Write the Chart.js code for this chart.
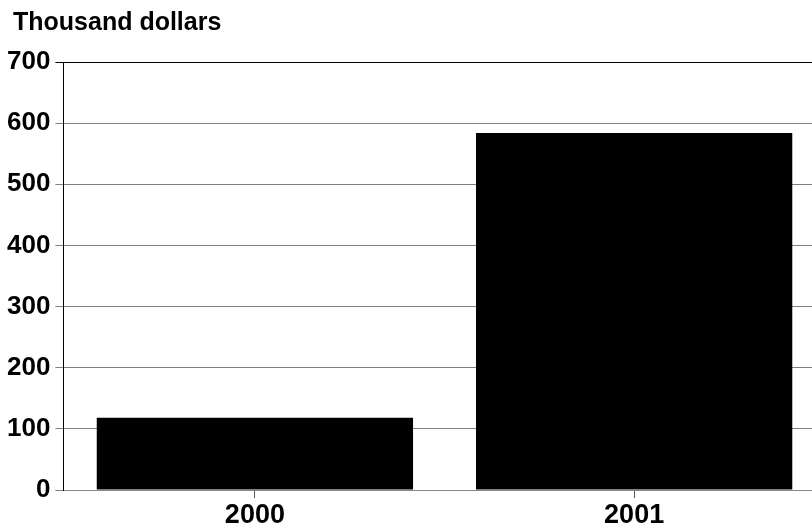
<!DOCTYPE html>
<html>
<head>
<meta charset="utf-8">
<script src="https://cdn.jsdelivr.net/npm/chart.js@4/dist/chart.umd.min.js"></script>
<style>
  html, body { margin: 0; padding: 0; background: #fff; overflow: hidden; }
  #wrap { position: relative; width: 812px; height: 525px; }
  #title { position: absolute; left: 13px; top: 7px; font: bold 25px "Liberation Sans", Arial, sans-serif; color: #000; }
</style>
</head>
<body>
<div id="wrap">
  <div id="title">Thousand dollars</div>
  <canvas id="myChart" width="812" height="525"></canvas>
</div>
<script>
var years = ['2000', '2001'];
var amounts = [118, 584];
var yTicks = [0, 100, 200, 300, 400, 500, 600, 700];

// bars sit at positions 0 and 1 on a linear x axis; the plot runs past the right edge
var points = amounts.map(function(v, i) { return { x: i, y: v }; });

var ctx = document.getElementById('myChart').getContext('2d');
var myChart = new Chart(ctx, {
    type: 'bar',
    data: {
        datasets: [{
            label: 'Thousand dollars',
            data: points,
            backgroundColor: '#000',
            borderColor: '#000',
            borderWidth: 0,
            barPercentage: 0.834,
            categoryPercentage: 1
        }]
    },
    options: {
        responsive: false,
        animation: false,
        layout: { padding: { top: 62, left: 2, right: 0, bottom: 0 } },
        plugins: { legend: { display: false }, tooltip: { enabled: false } },
        scales: {
            x: {
                type: 'linear',
                min: -0.505,
                max: 1.469,
                offset: false,
                afterBuildTicks: function(axis) { axis.ticks = years.map(function(y, i) { return { value: i }; }); },
                afterFit: function(axis) { axis.height = 35; },
                grid: { drawOnChartArea: false, offset: false, tickLength: 8, color: '#555' },
                border: { color: '#888' },
                ticks: {
                    color: '#000', padding: 4, autoSkip: false, maxRotation: 0,
                    callback: function(v) { return years[v]; },
                    font: { family: 'Liberation Sans', weight: 'bold', size: 27, lineHeight: 1.0 }
                }
            },
            y: {
                min: 0,
                max: 700,
                afterBuildTicks: function(axis) { axis.ticks = yTicks.map(function(v) { return { value: v }; }); },
                grid: {
                    tickLength: 8,
                    color: function(c) { return c.tick && c.tick.value === 700 ? '#000' : '#808080'; }
                },
                border: { color: '#000' },
                ticks: { color: '#000', padding: 5, font: { family: 'Liberation Sans', weight: 'bold', size: 26 } }
            }
        }
    }
});
</script>
</body>
</html>
